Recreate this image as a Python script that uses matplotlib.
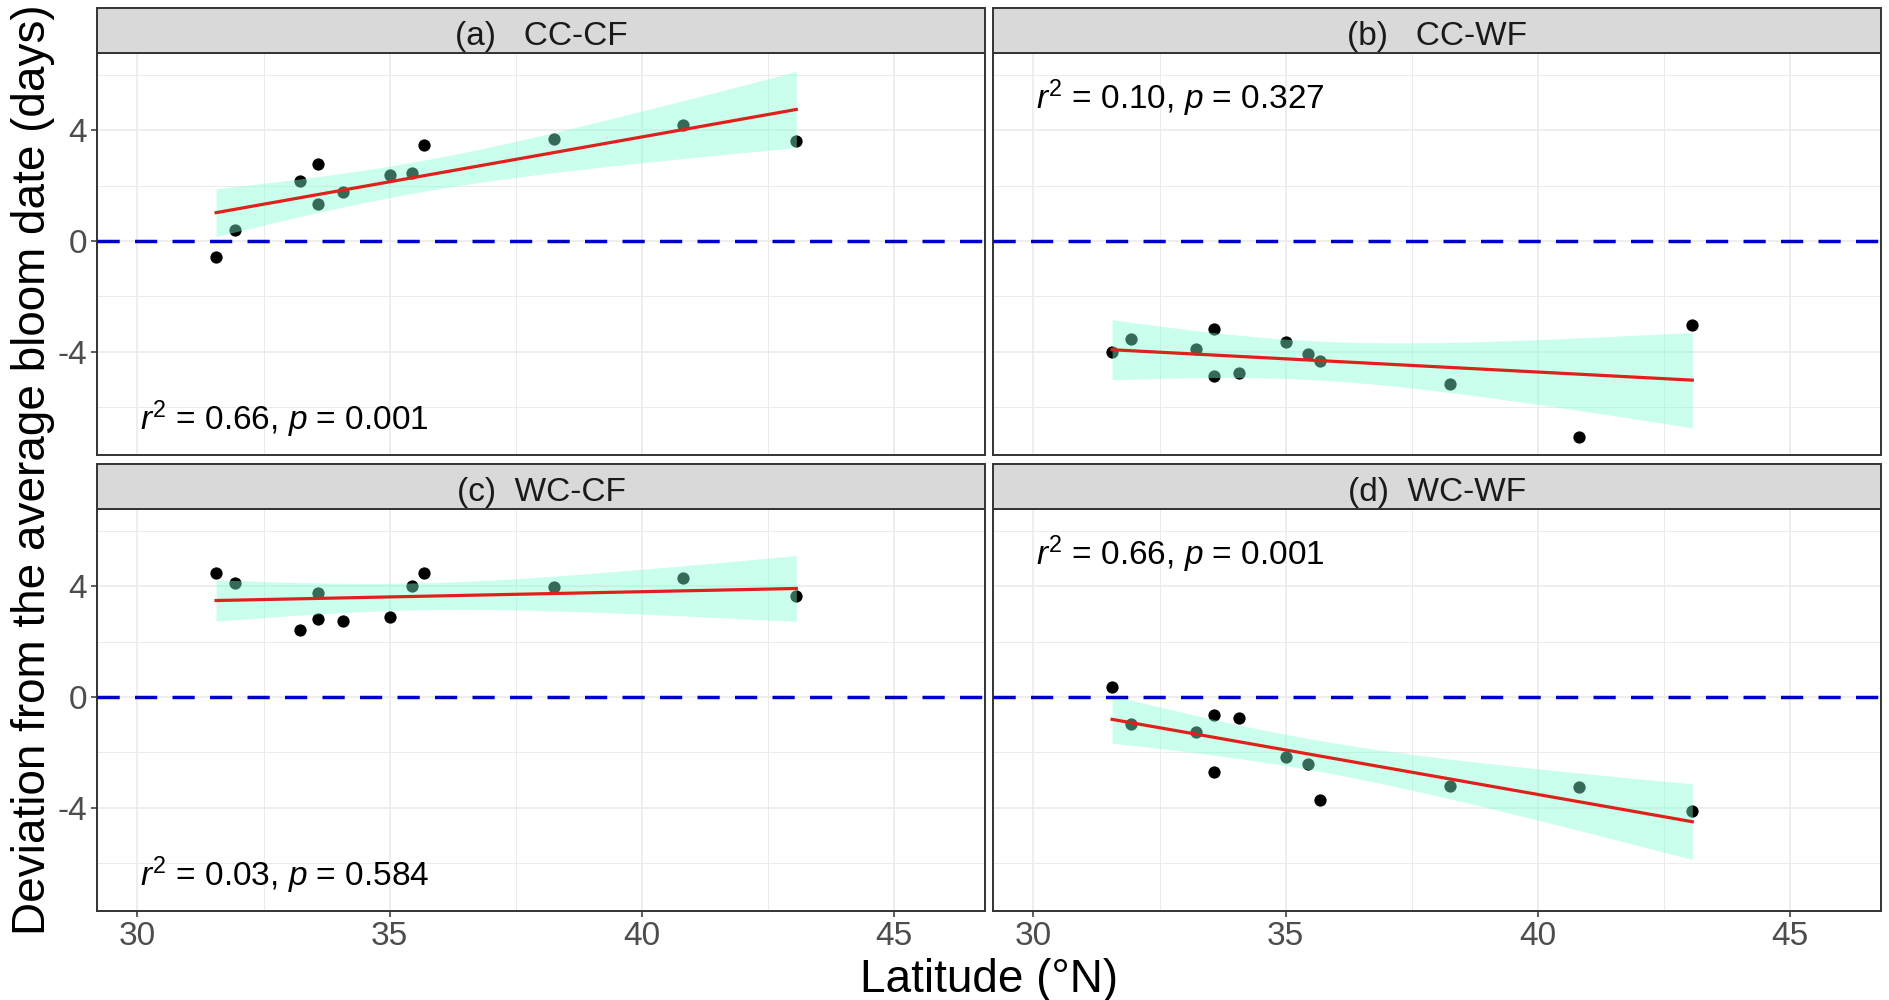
import numpy as np
import matplotlib
matplotlib.use("Agg")
import matplotlib.pyplot as plt
from matplotlib.patches import Rectangle

plt.rcParams['font.family'] = ['Liberation Sans', 'DejaVu Sans']
plt.rcParams['mathtext.fontset'] = 'custom'
plt.rcParams['mathtext.rm'] = 'Liberation Sans'
plt.rcParams['mathtext.it'] = 'Liberation Sans:italic'
plt.rcParams['lines.scale_dashes'] = False

# Site latitudes (°N)
latitude = [31.56, 31.94, 33.23, 33.58, 33.58, 34.07, 35.00, 35.44, 35.69, 38.26, 40.82, 43.06]

# Deviation from the average bloom date (days) for each scenario
cc_cf = [-0.56, 0.41, 2.16, 2.78, 1.34, 1.78, 2.39, 2.46, 3.47, 3.70, 4.21, 3.62]
cc_wf = [-4.02, -3.54, -3.89, -3.19, -4.88, -4.78, -3.64, -4.08, -4.34, -5.17, -7.08, -3.03]
wc_cf = [4.48, 4.14, 2.42, 3.77, 2.82, 2.76, 2.88, 4.03, 4.50, 3.97, 4.29, 3.64]
wc_wf = [0.35, -0.96, -1.27, -0.64, -2.71, -0.77, -2.18, -2.43, -3.72, -3.23, -3.26, -4.10]

panel_titles = ["(a)   CC-CF", "(b)   CC-WF", "(c)  WC-CF", "(d)  WC-WF"]
stat_labels = [
    r"$r^2$ = 0.66, $p$ = 0.001",
    r"$r^2$ = 0.10, $p$ = 0.327",
    r"$r^2$ = 0.03, $p$ = 0.584",
    r"$r^2$ = 0.66, $p$ = 0.001",
]
x_ticks = [30, 35, 40, 45]
y_ticks = [-4, 0, 4]

series = [cc_cf, cc_wf, wc_cf, wc_wf]

T_975_DF10 = 2.228  # two-sided 95% t quantile, 10 degrees of freedom


def linear_fit_band(x, y, npts=80):
    x = np.asarray(x, float)
    y = np.asarray(y, float)
    n = len(x)
    slope, intercept = np.polyfit(x, y, 1)
    xs = np.linspace(x.min(), x.max(), npts)
    yhat = intercept + slope * xs
    resid = y - (intercept + slope * x)
    s = np.sqrt(np.sum(resid ** 2) / (n - 2))
    sxx = np.sum((x - x.mean()) ** 2)
    se = s * np.sqrt(1.0 / n + (xs - x.mean()) ** 2 / sxx)
    return xs, yhat, yhat - T_975_DF10 * se, yhat + T_975_DF10 * se


W, H = 1889, 1000
fig = plt.figure(figsize=(W / 100, H / 100), dpi=100)
fig.patch.set_facecolor("white")

col_left = [97, 993]
col_width = 888
row_panel_top = [53, 509]
panel_h = 402
strip_h = 45

border = "#333333"
grid_col = "#EBEBEB"

for i in range(4):
    r, c = divmod(i, 2)
    left = col_left[c] / W
    bottom = 1 - (row_panel_top[r] + panel_h) / H
    ax = fig.add_axes([left, bottom, col_width / W, panel_h / H])
    ax.set_xlim(29.2, 46.8)
    ax.set_ylim(-7.73, 6.8)

    ax.set_xticks(x_ticks)
    ax.set_xticks([32.5, 37.5, 42.5], minor=True)
    ax.set_yticks(y_ticks)
    ax.set_yticks([-6, -2, 2, 6], minor=True)
    ax.grid(which="major", color=grid_col, lw=1.2)
    ax.grid(which="minor", color=grid_col, lw=0.7)
    ax.set_axisbelow(True)

    ax.tick_params(which="minor", length=0)
    ax.tick_params(which="major", length=4, width=1.1, color=border,
                   labelsize=24, labelcolor="#4D4D4D", pad=3)
    if r == 0:
        ax.tick_params(axis="x", length=0, labelbottom=False)
    if c == 1:
        ax.tick_params(axis="y", length=0, labelleft=False)
    ax.set_yticklabels([str(t) for t in y_ticks])

    for sp in ax.spines.values():
        sp.set_color(border)
        sp.set_linewidth(1.4)

    y = series[i]
    ax.scatter(latitude, y, s=78, color="black", zorder=2, linewidths=0)

    xs, yhat, lo, hi = linear_fit_band(latitude, y)
    ax.fill_between(xs, lo, hi, color="#7FFFD4", alpha=0.42, lw=0, zorder=3)
    ax.axhline(0, color="#0000CD", lw=2.5, dashes=(16, 11), zorder=4)
    ax.plot(xs, yhat, color="#E0201B", lw=2.3, zorder=5)

    if c == 0:
        ax.text(30.05, -6.45, stat_labels[i], fontsize=24, ha="left",
                va="center", color="black", zorder=6)
    else:
        ax.text(30.05, 5.15, stat_labels[i], fontsize=24, ha="left",
                va="center", color="black", zorder=6)

    sh = strip_h / panel_h
    ax.add_patch(Rectangle((0, 1), 1, sh, transform=ax.transAxes,
                           facecolor="#D9D9D9", edgecolor=border, lw=1.4,
                           clip_on=False, zorder=10))
    ax.text(0.5, 1 + (strip_h / 2 - 2) / panel_h, panel_titles[i],
            transform=ax.transAxes, fontsize=24, color="#1A1A1A",
            ha="center", va="center_baseline", zorder=11)

fig.text(989 / W, 8 / H, "Latitude (°N)", fontsize=33, ha="center",
         va="baseline", color="black")
fig.text(33 / W, 1 - 470 / H, "Deviation from the average bloom date (days)",
         fontsize=33, rotation=90, ha="center", va="center", color="black")

fig.savefig("out.png", dpi=100, facecolor="white")
